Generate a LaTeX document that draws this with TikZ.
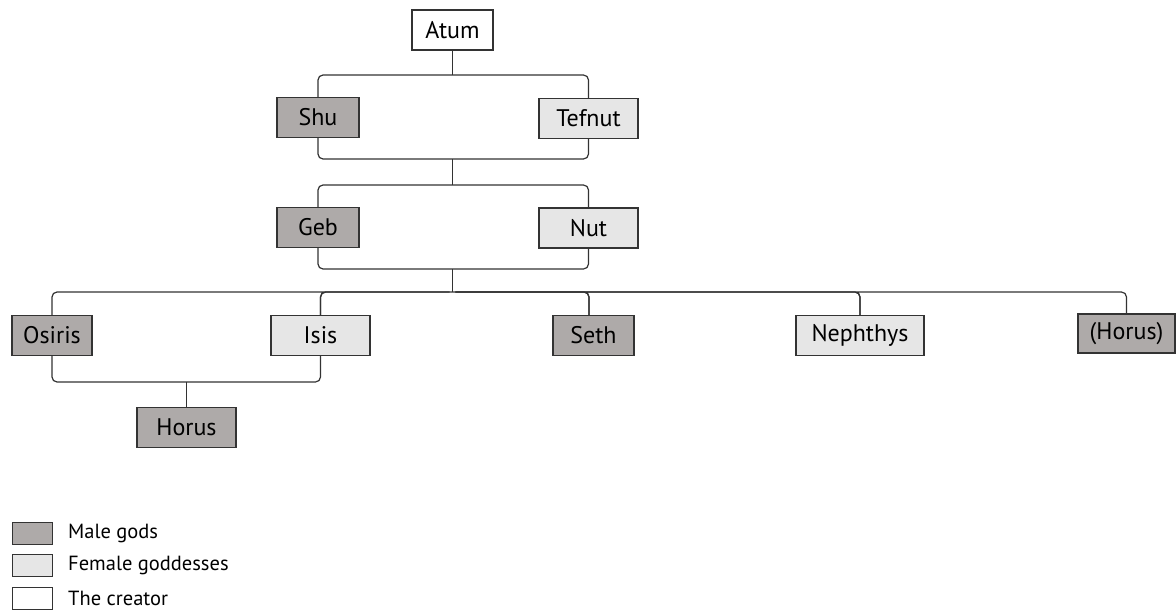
\documentclass[tikz,border=0pt]{standalone}
\usepackage{fontspec}
\setmainfont{PT Sans}
\definecolor{male}{HTML}{AEAAA9}
\definecolor{female}{HTML}{E6E6E6}
\definecolor{edge}{HTML}{333333}
\begin{document}
\begin{tikzpicture}[x=1pt,y=-1pt,
  god/.style={draw=edge,line width=1.2pt,inner sep=0pt,minimum height=40pt,font=\fontsize{24}{28}\selectfont},
  maleg/.style={god,fill=male},
  femaleg/.style={god,fill=female},
  creator/.style={god,fill=white},
  link/.style={draw=edge,line width=1.2pt,rounded corners=5pt},
  legbox/.style={draw=edge,line width=1pt,inner sep=0pt,minimum width=40pt,minimum height=22pt},
  legtext/.style={anchor=west,inner sep=0pt,font=\fontsize{20.5}{24}\selectfont}]
\useasboundingbox (0,0) rectangle (1176,610);
\node[creator,minimum width=81pt] (atum) at (452.5,30) {Atum};
\node[maleg,minimum width=82pt] (shu) at (318,117.5) {Shu};
\node[femaleg,minimum width=99pt] (tefnut) at (588.5,118.5) {Tefnut};
\node[maleg,minimum width=82pt] (geb) at (318,227.5) {Geb};
\node[femaleg,minimum width=99pt] (nut) at (588.5,228) {Nut};
\node[maleg,minimum width=80pt] (osiris) at (52,335.5) {Osiris};
\node[femaleg,minimum width=99pt] (isis) at (320.5,335.5) {Isis};
\node[maleg,minimum width=81pt] (seth) at (593.5,335.5) {Seth};
\node[femaleg,minimum width=128pt] (nephthys) at (860,335.5) {Nephthys};
\node[maleg,minimum width=97pt,minimum height=39pt] (horus2) at (1126.5,333.5) {(Horus)};
\node[maleg,minimum width=99pt] (horus) at (186.5,427.5) {Horus};
% connectors
\coordinate (j1) at (452.5,75);
\coordinate (j2) at (452.5,159);
\coordinate (j3) at (452.5,185);
\coordinate (j4) at (452.5,269);
\coordinate (j5) at (452.5,292);
\coordinate (j6) at (186.5,382);
\draw[link] (atum.south) -- (j1);
\draw[link] (shu.north) |- (j1) -| (tefnut.north);
\draw[link] (shu.south) |- (j2) -| (tefnut.south);
\draw[link] (j2) -- (j3);
\draw[link] (geb.north) |- (j3) -| (nut.north);
\draw[link] (geb.south) |- (j4) -| (nut.south);
\draw[link] (j4) -- (j5);
\draw[link] (osiris.north) |- (j5) -| (isis.north);
\draw[link] (isis.north) |- (j5) -| ([xshift=-4.5pt]seth.north);
\draw[link] ([xshift=-4.5pt]seth.north) |- (j5) -| (nephthys.north);
\draw[link] (nephthys.north) |- (j5) -| (horus2.north);
\draw[link] (osiris.south) |- (j6) -| (isis.south);
\draw[link] (j6) -- (horus.north);
% legend
\node[legbox,fill=male] (lm) at (32,533) {};
\node[legbox,fill=female] (lf) at (32,565) {};
\node[legbox,fill=white] (lc) at (32,598) {};
\node[legtext] (tm) at (68,533) {Male gods};
\node[legtext] (tf) at (68,565) {Female goddesses};
\node[legtext] (tc) at (68,598) {The creator};
\end{tikzpicture}
\end{document}
